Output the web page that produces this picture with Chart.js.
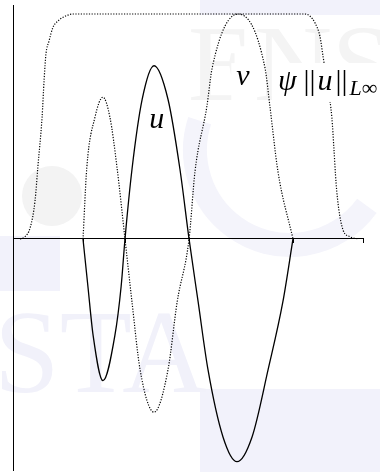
<html>
<head>
<title>u, v and psi</title>
<style>
    body { margin: 0; background: #ffffff; }
    canvas { display: block; }
</style>
</head>
<body>
<canvas id="myChart" width="380" height="472"></canvas>

<script src="https://cdn.jsdelivr.net/npm/chart.js@4.4.1/dist/chart.umd.min.js"></script>
<script>

// tick marks along the horizontal axis (zeros of u, then the end of the interval)
const X_TICKS = [2.0, 3.2, 5.03, 8.0, 10.0];

// u : solid curve
const U_X = [2.0, 2.14, 2.29, 2.57, 2.91, 3.09, 3.2, 3.4, 3.69, 4.03, 4.43, 4.77, 5.03, 5.29, 5.57, 6.0, 6.4, 6.83, 7.29, 7.71, 8.0];
const U_Y = [0, -0.21, -0.43, -0.63, -0.43, -0.21, 0, 0.31, 0.62, 0.77, 0.62, 0.31, 0, -0.28, -0.58, -0.88, -0.99, -0.88, -0.58, -0.28, 0];

// v : dotted curve
const V_X = [2.0, 2.11, 2.34, 2.57, 2.77, 2.97, 3.2, 3.4, 3.63, 4.03, 4.43, 4.69, 5.03, 5.2, 5.54, 5.69, 6.43, 7.2, 7.34, 7.57, 8.0];
const V_Y = [0, 0.32, 0.54, 0.63, 0.54, 0.32, 0, -0.28, -0.58, -0.77, -0.58, -0.28, 0, 0.3, 0.59, 0.76, 1.0, 0.76, 0.59, 0.3, 0];

// psi * ||u||_inf : dotted cut-off plateau
const PSI_X = [0.2, 0.34, 0.49, 0.63, 0.71, 0.83, 0.89, 0.94, 1.03, 1.14, 1.29, 1.49, 1.71,
               8.34, 8.49, 8.63, 8.77, 8.86, 9.0, 9.11, 9.17, 9.23, 9.31, 9.43, 9.63, 9.86];
const PSI_Y = [0, 0.01, 0.05, 0.17, 0.32, 0.54, 0.71, 0.82, 0.88, 0.94, 0.97, 0.99, 1.0,
               1.0, 0.99, 0.96, 0.9, 0.81, 0.67, 0.54, 0.4, 0.25, 0.13, 0.04, 0.01, 0];

const Y_MIN = -1.027, Y_MAX = 1.04;

function points(xs, ys) {
    return xs.map((x, i) => ({x: x, y: ys[i]}));
}

// pale school logo behind the figure
const watermark = {
    id: 'watermark',
    beforeDraw(chart) {
        const ctx = chart.ctx;
        const W = chart.width, H = chart.height;
        ctx.save();
        ctx.fillStyle = '#ffffff';
        ctx.fillRect(0, 0, W, H);

        ctx.fillStyle = '#f2f2fb';
        ctx.fillRect(200, 0, W - 200, 15);
        ctx.fillRect(200, 389, W - 200, H - 389);
        ctx.fillRect(0, 236, 60, 55);

        ctx.strokeStyle = '#f4f4fb';
        ctx.lineWidth = 24;
        ctx.beginPath();
        ctx.arc(290, 150, 95, 0.2 * Math.PI, 1.1 * Math.PI);
        ctx.stroke();

        ctx.fillStyle = '#f3f3f3';
        ctx.beginPath();
        ctx.arc(52, 196, 30, 0, 2 * Math.PI);
        ctx.fill();

        ctx.font = '108px "Liberation Serif"';
        ctx.textBaseline = 'alphabetic';
        ctx.fillStyle = '#f4f4f4';
        ctx.fillText('ENS', 188, 100);

        ctx.font = '118px "Liberation Serif"';
        ctx.fillStyle = '#f1f1fa';
        ctx.fillText('STA', -6, 392);
        ctx.restore();
    }
};

// curve labels, each on a small white patch
const curveLabels = {
    id: 'curveLabels',
    afterDatasetsDraw(chart) {
        const ctx = chart.ctx;
        const xs = chart.scales.x, ys = chart.scales.y;
        const italic = 'italic 30px "Liberation Serif"';
        const upright = '30px "Liberation Serif"';
        const small = 'italic 22px "Liberation Serif"';
        ctx.save();
        ctx.textBaseline = 'alphabetic';

        // u
        ctx.font = italic;
        let px = xs.getPixelForValue(4.11), py = ys.getPixelForValue(0.493);
        let w = ctx.measureText('u').width;
        ctx.fillStyle = '#ffffff';
        ctx.fillRect(px - w / 2 - 3, py - 18, w + 6, 22);
        ctx.fillStyle = '#000000';
        ctx.fillText('u', px - w / 2, py);

        // v
        px = xs.getPixelForValue(6.57); py = ys.getPixelForValue(0.684);
        w = ctx.measureText('v').width;
        ctx.fillStyle = '#ffffff';
        ctx.fillRect(px - w / 2 - 5, py - 22, w + 10, 37);
        ctx.fillStyle = '#000000';
        ctx.fillText('v', px - w / 2, py);

        // psi ||u||_{L^inf}
        px = xs.getPixelForValue(7.57); py = ys.getPixelForValue(0.662);
        ctx.fillStyle = '#ffffff';
        ctx.fillRect(px - 6, py - 27, chart.width - px + 6, 39);
        ctx.fillStyle = '#000000';
        let cx = px;
        ctx.font = italic;
        ctx.fillText('\u03C8', cx, py);
        cx += ctx.measureText('\u03C8').width + 7;
        ctx.font = upright;
        ctx.fillText('||', cx, py);
        cx += ctx.measureText('||').width + 2;
        ctx.font = italic;
        ctx.fillText('u', cx, py);
        cx += ctx.measureText('u').width + 3;
        ctx.font = upright;
        ctx.fillText('||', cx, py);
        cx += ctx.measureText('||').width + 2;
        ctx.font = small;
        ctx.fillText('L', cx, py + 5);
        cx += ctx.measureText('L').width;
        ctx.font = '22px "Liberation Serif"';
        ctx.fillText('\u221E', cx, py + 5);
        ctx.restore();
    }
};

const dotted = [1.2, 1.5];

new Chart('myChart', {
    type: 'line',
    data: {
        datasets: [
            {
                label: 'psi',
                data: points(PSI_X, PSI_Y),
                borderColor: '#000000',
                borderWidth: 1.2,
                borderDash: dotted,
                cubicInterpolationMode: 'monotone',
                pointRadius: 0,
                fill: false
            },
            {
                label: 'v',
                data: points(V_X, V_Y),
                borderColor: '#000000',
                borderWidth: 1.2,
                borderDash: dotted,
                cubicInterpolationMode: 'monotone',
                pointRadius: 0,
                fill: false
            },
            {
                label: 'u',
                data: points(U_X, U_Y),
                borderColor: '#000000',
                borderWidth: 1.3,
                cubicInterpolationMode: 'monotone',
                pointRadius: 0,
                fill: false
            }
        ]
    },
    options: {
        responsive: false,
        animation: false,
        layout: { padding: { left: 13, right: 17, top: 5, bottom: 2 } },
        plugins: {
            legend: { display: false },
            tooltip: { enabled: false }
        },
        scales: {
            x: {
                type: 'linear',
                min: 0,
                max: 10,
                position: { y: 0 },
                afterBuildTicks: (axis) => { axis.ticks = X_TICKS.map(v => ({value: v})); },
                ticks: { display: false },
                grid: { drawOnChartArea: false, drawTicks: true, tickLength: 4, color: '#000000', lineWidth: 1 },
                border: { color: '#000000', width: 1 }
            },
            y: {
                type: 'linear',
                min: Y_MIN,
                max: Y_MAX,
                position: { x: 0 },
                ticks: { display: false },
                grid: { drawOnChartArea: false, drawTicks: false },
                border: { color: '#000000', width: 1 }
            }
        }
    },
    plugins: [watermark, curveLabels]
});

</script>
</body>
</html>
